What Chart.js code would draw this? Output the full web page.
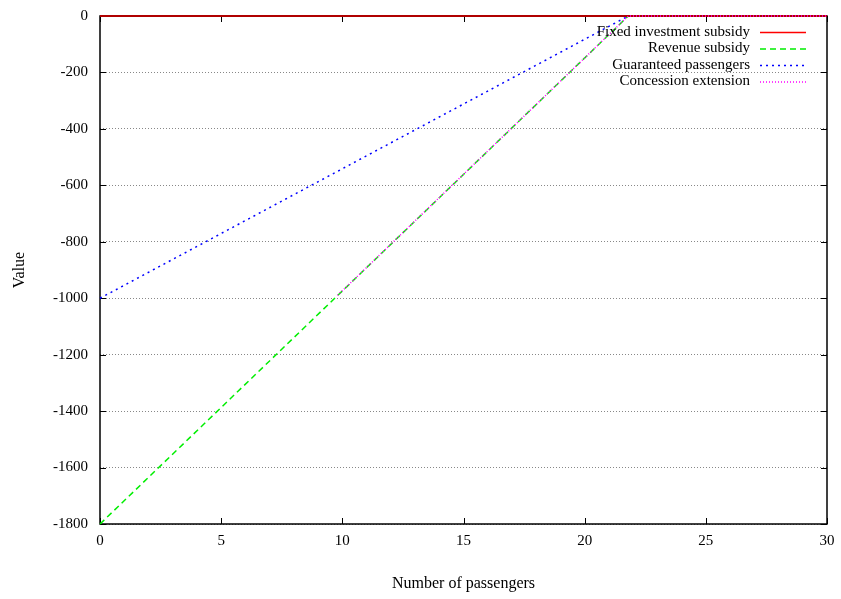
<!DOCTYPE html>
<html>
<head>
<meta charset="utf-8">
<script src="https://cdn.jsdelivr.net/npm/chart.js@4"></script>
<style>
  html, body { margin: 0; padding: 0; background: #fff; }
  #wrap { width: 841px; height: 599px; }
</style>
</head>
<body>
<div id="wrap"><canvas id="grafico" width="841" height="599"></canvas></div>
<script>
// Datos
const seriesNames = ['Fixed investment subsidy', 'Revenue subsidy', 'Guaranteed passengers', 'Concession extension'];
const fixedX = [0, 30];
const fixedY = [0, 0];
const revenueX = [0, 21.8, 30];
const revenueY = [-1800, 0, 0];
const guaranteedX = [0, 21.8, 30];
const guaranteedY = [-1000, 0, 0];
const concessionX = [9.8, 21.8, 30];
const concessionY = [-990, 0, 0];
const xTicks = [0, 5, 10, 15, 20, 25, 30];
const yTicks = [0, -200, -400, -600, -800, -1000, -1200, -1400, -1600, -1800];

const colores = ['#ff0000', '#00ee00', '#0000ff', '#ff00ff'];
const estilos = [[], [6, 4], [2, 4], [1, 2]];
const fuente = "'Liberation Serif', 'DejaVu Serif', serif";

function puntos(xs, ys) {
    return xs.map((x, i) => ({ x: x, y: ys[i] }));
}

// Marco y marcas de ticks hacia adentro (debajo de las lineas), leyenda encima
const marcoPlugin = {
    id: 'marco',
    beforeDatasetsDraw(chart) {
        const ctx = chart.ctx;
        const a = chart.chartArea;
        const xs = chart.scales.x;
        const ys = chart.scales.y;
        ctx.save();
        ctx.strokeStyle = '#000';
        ctx.lineWidth = 1;
        ctx.setLineDash([]);
        ctx.beginPath();
        xTicks.forEach(v => {
            const px = Math.round(xs.getPixelForValue(v)) + 0.5;
            ctx.moveTo(px, a.bottom); ctx.lineTo(px, a.bottom - 6);
            ctx.moveTo(px, a.top); ctx.lineTo(px, a.top + 6);
        });
        yTicks.forEach(v => {
            const py = Math.round(ys.getPixelForValue(v)) + 0.5;
            ctx.moveTo(a.left, py); ctx.lineTo(a.left + 6, py);
            ctx.moveTo(a.right, py); ctx.lineTo(a.right - 6, py);
        });
        ctx.stroke();
        ctx.lineWidth = 1.5;
        ctx.strokeRect(a.left, a.top, a.right - a.left, a.bottom - a.top);
        ctx.restore();
    },
    afterDatasetsDraw(chart) {
        const ctx = chart.ctx;
        ctx.save();
        ctx.font = '15px ' + fuente;
        ctx.textAlign = 'right';
        ctx.textBaseline = 'middle';
        seriesNames.forEach((n, i) => {
            const y = 32 + i * 16.5;
            ctx.fillStyle = '#000';
            ctx.fillText(n, 750, y);
            ctx.strokeStyle = colores[i];
            ctx.lineWidth = 1.5;
            ctx.setLineDash(estilos[i]);
            ctx.beginPath();
            ctx.moveTo(760, y + 0.5);
            ctx.lineTo(806, y + 0.5);
            ctx.stroke();
        });
        ctx.restore();
    }
};

const datasets = [
    { data: puntos(fixedX, fixedY), order: 1, borderColor: '#b00000', borderWidth: 2 },
    { data: puntos(revenueX, revenueY), order: 3 },
    { data: puntos(guaranteedX, guaranteedY), order: 2 },
    { data: puntos(concessionX, concessionY), order: 0 }
].map((d, i) => Object.assign({
    label: seriesNames[i],
    borderColor: colores[i],
    borderDash: estilos[i],
    borderWidth: 1.5,
    pointRadius: 0,
    fill: false,
    tension: 0,
    clip: false
}, d));

new Chart(document.getElementById('grafico').getContext('2d'), {
    type: 'line',
    data: { datasets: datasets },
    plugins: [marcoPlugin],
    options: {
        responsive: false,
        animation: false,
        layout: { padding: { top: 16, right: 14, left: 0, bottom: 0 } },
        plugins: { legend: { display: false }, tooltip: { enabled: false } },
        scales: {
            x: {
                type: 'linear',
                min: 0,
                max: 30,
                afterBuildTicks: s => { s.ticks = xTicks.map(v => ({ value: v })); },
                afterFit: s => { s.height = 75; s.paddingLeft = 0; s.paddingRight = 0; },
                grid: { display: false, drawTicks: false },
                border: { display: false },
                ticks: { color: '#000', font: { family: fuente, size: 15 }, padding: 8, maxRotation: 0,
                         callback: v => String(v) },
                title: { display: true, text: 'Number of passengers', color: '#000',
                         font: { family: fuente, size: 16 }, padding: { top: 0, bottom: 6 } }
            },
            y: {
                type: 'linear',
                min: -1800,
                max: 0,
                afterBuildTicks: s => { s.ticks = yTicks.map(v => ({ value: v })); },
                afterFit: s => { s.width = 100; s.paddingTop = 0; s.paddingBottom = 0; },
                grid: { color: '#888', lineWidth: 1, drawTicks: false },
                border: { display: false, dash: [1, 2] },
                ticks: { color: '#000', font: { family: fuente, size: 15 }, padding: 12,
                         callback: v => String(v) },
                title: { display: true, text: 'Value', color: '#000',
                         font: { family: fuente, size: 16 }, padding: { top: 10, bottom: 0 } }
            }
        }
    }
});
</script>
</body>
</html>
